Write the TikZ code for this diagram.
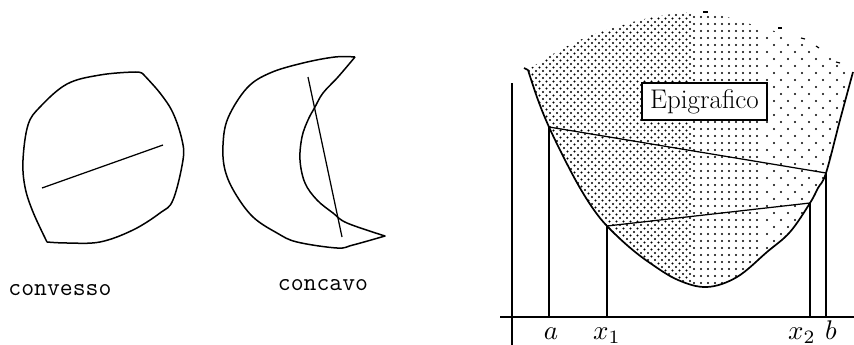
\documentclass[tikz,border=0pt]{standalone}
\usepackage{fontspec}
\begin{document}
\begin{tikzpicture}[x=1pt,y=-1pt,
  shape line/.style={line width=1.5pt,line join=round},
  thin line/.style={line width=1.25pt},
  dot/.style={fill=black},
  word/.style={font=\ttfamily\fontsize{25}{28}\selectfont,anchor=base,inner sep=0pt},
  mlabel/.style={scale=2.7,anchor=base,inner sep=0pt},
  epibox/.style={draw,line width=1.3pt,fill=white,minimum width=125pt,minimum height=37pt,inner sep=0pt,font=\fontsize{27}{30}\selectfont}]
\useasboundingbox (0,0) rectangle (854,345);

% ---------- convex set ----------
\draw[shape line] plot[smooth,tension=0.6] coordinates {(47,242) (33,212) (25,187) (23,160) (28,125) (40,107) (67,84) (100,75) (135,72) (143,74)}
  -- plot[smooth,tension=0.6] coordinates {(143,74) (160,93) (173,113) (182,140) (183,160) (173,200) (160,213) (133,230) (100,242) (67,243) (47,242)};
\coordinate (cv1) at (42,188);
\coordinate (cv2) at (163,145);
\draw[thin line] (cv1) -- (cv2);
\node[word] (convesso) at (60,295) {convesso};

% ---------- concave set ----------
\draw[shape line] plot[smooth,tension=0.6] coordinates {(355,57) (335,57) (303,63) (270,73) (247,88) (228,118) (223,145) (225,170) (235,193) (253,217) (277,233) (297,242) (337,248) (353,245) (385,236)}
  -- plot[smooth,tension=0.6] coordinates {(385,236) (347,223) (333,213) (317,200) (305,183) (300,160) (302,137) (308,120) (315,107) (323,93) (338,77) (355,57)};
\coordinate (cc1) at (308,77);
\coordinate (cc2) at (342,237);
\draw[thin line] (cc1) -- (cc2);
\node[word] (concavo) at (323,290) {concavo};

% ---------- epigraph dots ----------
\begin{scope}
\clip plot[smooth,tension=0.6] coordinates {(528,70) (540,62) (560,50) (580,40) (600,32) (620,26) (640,20) (660,16) (680,13) (700,12) (720,15) (740,21) (760,27) (780,33) (800,42) (820,52) (840,62) (853,72)}
  -- plot[smooth,tension=0.6] coordinates {(853,72) (840,120) (826,173) (818,188) (810,203) (790,232) (767,252) (737,277) (707,287) (678,280) (650,263) (628,246) (607,226) (594,210) (580,188) (565,160) (549,127) (538,100) (528,70)} -- cycle;
\foreach \y in {8,15,...,295} \foreach \x in {522,529,...,690} {\fill[dot] (\x,\y) circle (1.05);}
\foreach \y in {11.5,18.5,...,295} \foreach \x in {525.5,532.5,...,690} {\fill[dot] (\x,\y) circle (1.05);}
\foreach \y in {10,17,...,295} \foreach \x in {694,701,...,760} {\fill[dot] (\x,\y) circle (1.05);}
\foreach \y in {10,24,...,295} \foreach \x in {767,781,...,860} {\fill[dot] (\x,\y) circle (1.05);}
\foreach \y in {17,31,...,295} \foreach \x in {774,788,...,860} {\fill[dot] (\x,\y) circle (1.05);}
\end{scope}
% small marks on the upper edge
\foreach \p/\q in {{(703,12)}/{(708,12)},{(778,28)}/{(782,28)},{(801,38)}/{(805,39)},{(816,46)}/{(819,48)},{(836,62)}/{(840,63)}}
  {\draw[line width=1.2pt] \p -- \q;}

% ---------- axes ----------
\coordinate (axL) at (500,317);
\coordinate (axR) at (854,317);
\coordinate (ayT) at (512,83);
\coordinate (ayB) at (512,345);
\draw[thin line] (axL) -- (axR);
\draw[thin line] (ayT) -- (ayB);

% ---------- function graph ----------
\coordinate (A) at (549,127);
\coordinate (X1) at (607,226);
\coordinate (X2) at (810,203);
\coordinate (B) at (826,173);
\draw[line width=1.7pt,line join=round] (524,68) -- (528,70) plot[smooth,tension=0.6] coordinates {(528,70) (538,100) (549,127) (565,160) (580,188) (594,210) (607,226) (628,246) (650,263) (678,280) (707,287) (737,277) (767,252) (790,232) (810,203) (818,188) (826,173) (840,120) (853,72)};

% chords
\draw[thin line] (A) -- (B);
\draw[thin line] (X1) -- (X2);
% verticals
\draw[thin line] (A) -- (A |- axL);
\draw[thin line] (X1) -- (X1 |- axL);
\draw[thin line] (X2) -- (X2 |- axL);
\draw[thin line] (B) -- (B |- axL);

% labels
\node[mlabel] (la) at (551,339) {$a$};
\node[mlabel] (lx1) at (607,339) {$x_1$};
\node[mlabel] (lx2) at (802,339) {$x_2$};
\node[mlabel] (lb) at (831,339) {$b$};

\node[epibox] (epi) at (704.5,101.5) {Epigrafico};
\end{tikzpicture}
\end{document}
